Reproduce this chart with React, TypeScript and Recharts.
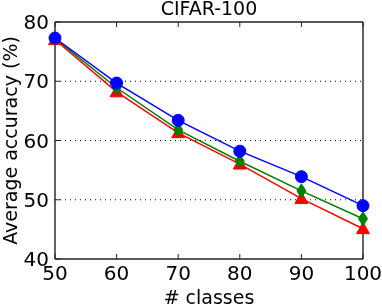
import { LineChart, Line, XAxis, YAxis, ReferenceLine, Label } from "recharts";

const classes = [50, 60, 70, 80, 90, 100];
const blueAcc = [77.3, 69.7, 63.4, 58.2, 53.9, 49.0];
const greenAcc = [77.2, 68.9, 61.8, 56.5, 51.5, 46.8];
const redAcc = [77.0, 68.2, 61.3, 56.0, 50.2, 45.1];
const xTicks = [50, 60, 70, 80, 90, 100];
const yTicks = [40, 50, 60, 70, 80];
const gridValues = [50, 60, 70];

const data = classes.map((c, i) => ({
  classes: c,
  blue: blueAcc[i],
  green: greenAcc[i],
  red: redAcc[i],
}));

const font = "'DejaVu Sans', sans-serif";
const TICK = 5;
const frame = { stroke: "#222", strokeWidth: 1.4 };

const BottomTick = (props: any) => {
  const { x, y, payload } = props;
  return (
    <g>
      <line x1={x} y1={y} x2={x} y2={y - TICK} stroke="#222" strokeWidth={1} />
      <text x={x} y={y + 21} textAnchor="middle" fontSize={20} fontFamily={font} fill="#000">
        {payload.value}
      </text>
    </g>
  );
};

const TopTick = (props: any) => {
  const { x, y } = props;
  return <line x1={x} y1={y} x2={x} y2={y + TICK} stroke="#222" strokeWidth={1} />;
};

const LeftTick = (props: any) => {
  const { x, y, payload } = props;
  return (
    <g>
      <line x1={x} y1={y} x2={x + TICK} y2={y} stroke="#222" strokeWidth={1} />
      <text x={x - 6} y={y + 7} textAnchor="end" fontSize={20} fontFamily={font} fill="#000">
        {payload.value}
      </text>
    </g>
  );
};

const RightTick = (props: any) => {
  const { x, y } = props;
  return <line x1={x} y1={y} x2={x - TICK} y2={y} stroke="#222" strokeWidth={1} />;
};

const Circle = (props: any) => {
  const { cx, cy } = props;
  return <circle cx={cx} cy={cy} r={6} fill="#0000ff" stroke="#0000ff" />;
};

const Tri = (props: any) => {
  const { cx, cy } = props;
  const s = 6.5;
  return (
    <polygon
      points={`${cx},${cy - s} ${cx - s},${cy + s * 0.75} ${cx + s},${cy + s * 0.75}`}
      fill="#ff0000"
      stroke="#ff0000"
    />
  );
};

const Diamond = (props: any) => {
  const { cx, cy } = props;
  const w = 4.5;
  const h = 7;
  return (
    <polygon
      points={`${cx},${cy - h} ${cx + w},${cy} ${cx},${cy + h} ${cx - w},${cy}`}
      fill="#008000"
      stroke="#008000"
    />
  );
};

export default function App() {
  return (
    <div style={{ position: "fixed", left: 0, top: 0 }}>
      <LineChart
        width={382}
        height={307}
        data={data}
        margin={{ top: 21, right: 18, bottom: 0, left: 0 }}
      >
        {gridValues.map((v) => (
          <ReferenceLine
            key={v}
            y={v}
            yAxisId="left"
            xAxisId="bottom"
            stroke="#000"
            strokeWidth={1}
            strokeDasharray="1 4"
          />
        ))}
        <XAxis
          xAxisId="bottom"
          dataKey="classes"
          type="number"
          domain={[50, 100]}
          ticks={xTicks}
          height={48}
          tickSize={0}
          tickMargin={0}
          tickLine={false}
          axisLine={frame}
          tick={<BottomTick />}
          interval={0}
        >
          <Label
            content={(p: any) => (
              <text
                x={p.viewBox.x + p.viewBox.width / 2}
                y={304}
                textAnchor="middle"
                fontSize={19}
                fontFamily={font}
                fill="#000"
              >
                # classes
              </text>
            )}
          />
        </XAxis>
        <XAxis
          xAxisId="top"
          orientation="top"
          dataKey="classes"
          type="number"
          domain={[50, 100]}
          ticks={xTicks}
          height={1}
          tickSize={0}
          tickMargin={0}
          tickLine={false}
          axisLine={frame}
          tick={<TopTick />}
          interval={0}
        >
          <Label
            content={(p: any) => (
              <text
                x={p.viewBox.x + p.viewBox.width / 2}
                y={15}
                textAnchor="middle"
                fontSize={19}
                fontFamily={font}
                fill="#000"
              >
                CIFAR-100
              </text>
            )}
          />
        </XAxis>
        <YAxis
          yAxisId="left"
          type="number"
          domain={[40, 80]}
          ticks={yTicks}
          width={55}
          tickSize={0}
          tickMargin={0}
          tickLine={false}
          axisLine={frame}
          tick={<LeftTick />}
          interval={0}
        >
          <Label
            content={(p: any) => {
              const cy = p.viewBox.y + p.viewBox.height / 2;
              return (
                <text
                  x={17}
                  y={cy}
                  transform={`rotate(-90 17 ${cy})`}
                  textAnchor="middle"
                  fontSize={19}
                  fontFamily={font}
                  fill="#000"
                >
                  Average accuracy (%)
                </text>
              );
            }}
          />
        </YAxis>
        <YAxis
          yAxisId="right"
          orientation="right"
          type="number"
          domain={[40, 80]}
          ticks={yTicks}
          width={1}
          tickSize={0}
          tickMargin={0}
          tickLine={false}
          axisLine={frame}
          tick={<RightTick />}
          interval={0}
        />
        <Line
          xAxisId="bottom"
          yAxisId="left"
          dataKey="red"
          stroke="#ff0000"
          strokeWidth={1.5}
          dot={<Tri />}
          activeDot={false}
          isAnimationActive={false}
        />
        <Line
          xAxisId="bottom"
          yAxisId="left"
          dataKey="green"
          stroke="#008000"
          strokeWidth={1.5}
          dot={<Diamond />}
          activeDot={false}
          isAnimationActive={false}
        />
        <Line
          xAxisId="bottom"
          yAxisId="left"
          dataKey="blue"
          stroke="#0000ff"
          strokeWidth={1.5}
          dot={<Circle />}
          activeDot={false}
          isAnimationActive={false}
        />
      </LineChart>
    </div>
  );
}
